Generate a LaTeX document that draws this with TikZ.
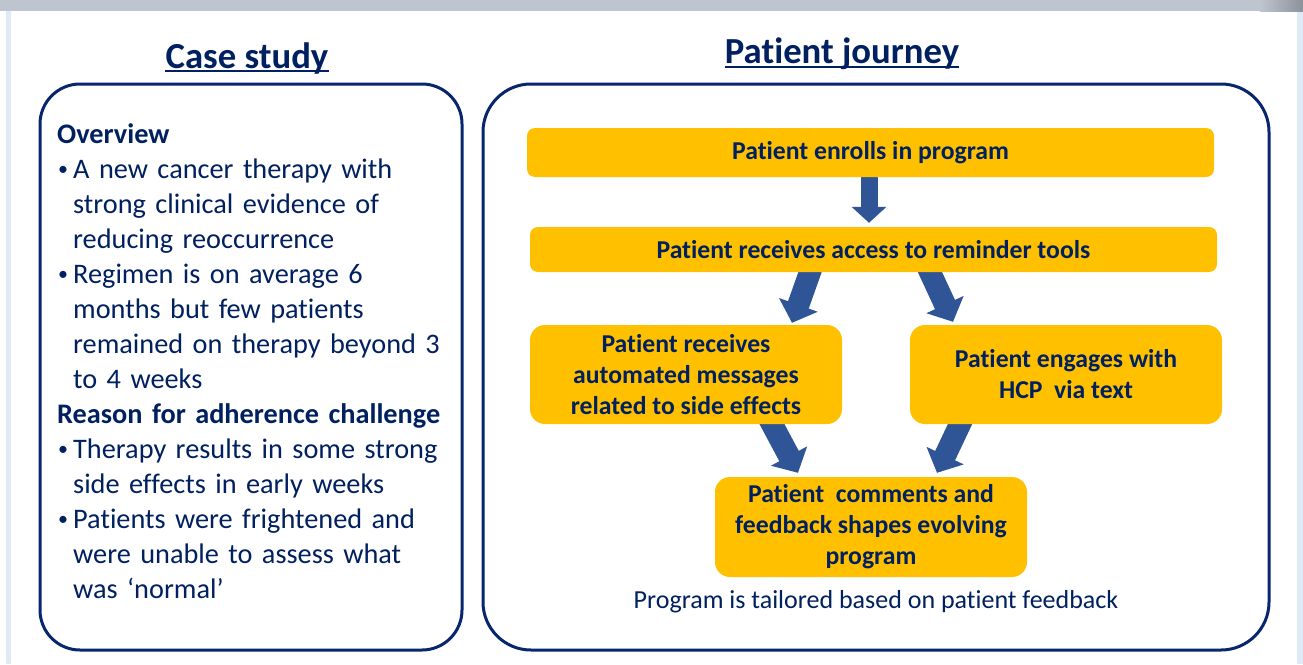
\documentclass[tikz,border=0pt]{standalone}
\usepackage{fontspec}
\setmainfont{Carlito}[RawFeature={-liga;-dlig}]
\usetikzlibrary{arrows.meta,calc}
\definecolor{navy}{RGB}{0,32,96}
\definecolor{boxline}{RGB}{8,38,110}
\definecolor{gold}{RGB}{255,192,0}
\definecolor{arrowblue}{RGB}{47,85,151}
\definecolor{pale}{RGB}{222,235,247}
\definecolor{bargray}{RGB}{190,197,207}
\definecolor{bardark}{RGB}{140,146,156}
\newcommand\csbullet{\makebox[16pt][l]{\hspace*{1pt}{\fontsize{20}{20}\selectfont\raisebox{2.5pt}{•}}}}
\newcommand\csindent{\hspace*{16pt}}
\pgfdeclarelayer{back}
\pgfdeclarelayer{bg}
\pgfsetlayers{back,bg,main}
\begin{document}
\begin{tikzpicture}[x=1pt,y=-1pt,
  panel/.style={draw=boxline, line width=3pt, rounded corners=40pt},
  stepbox/.style={fill=gold, rounded corners=8pt, text=navy, font=\fontsize{25.7}{31}\selectfont\bfseries, align=center, inner sep=0pt},
  bigbox/.style={stepbox, rounded corners=15pt, minimum width=312pt, minimum height=99pt},
  flow/.style={draw=arrowblue, line width=22pt, -{Triangle[length=19pt,width=40pt]}},
  titletext/.style={text=navy, font=\fontsize{36.7}{44}\selectfont\bfseries, inner sep=0pt, anchor=base},
  uline/.style={draw=navy, line width=2pt},
]
\useasboundingbox (0,0) rectangle (1303,664);
% background
\begin{pgfonlayer}{back}
\fill[white] (0,0) rectangle (1303,664);
\fill[pale] (6,11) rectangle (11,664);
\fill[pale] (1297,11) rectangle (1303,664);
\fill[bargray] (0,0) rectangle (1260,11);
\shade[left color=bargray, right color=bardark] (1260,0) rectangle (1303,11);
\end{pgfonlayer}

% titles
\node[titletext] (cs) at (247,68) {Case study};
\draw[uline] ($(cs.base west)+(0,3)$) -- ($(cs.base east)+(0,3)$);
\node[titletext] (pj) at (842,63) {Patient journey};
\draw[uline] ($(pj.base west)+(0,3.5)$) -- ($(pj.base east)+(0,3.5)$);

% panels
\draw[panel] (40,84) rectangle (462,650);
\draw[panel, rounded corners=48pt] (483,84) rectangle (1269,650);

% case study text
\node[anchor=base west, inner sep=0pt, text=navy, align=left, text width=430pt,
      font=\fontsize{28.3}{35}\selectfont] (cstext) at (57,143) {%
\textbf{Overview}\\
\csbullet A new cancer therapy with\\
\csindent strong clinical evidence of\\
\csindent reducing reoccurrence\\
\csbullet Regimen is on average 6\\
\csindent months but few patients\\
\csindent remained on therapy beyond 3\\
\csindent to 4 weeks\\
\textbf{Reason for adherence challenge}\\
\csbullet Therapy results in some strong\\
\csindent side effects in early weeks\\
\csbullet Patients were frightened and\\
\csindent were unable to assess what\\
\csindent was ‘normal’};

% flow boxes
\node[stepbox, minimum width=687pt, minimum height=49pt] (enroll) at (870.5,152.5) {Patient enrolls in program};
\node[stepbox, minimum width=687pt, minimum height=45pt] (remind) at (873.5,249.5) {Patient receives access to reminder tools};
\node[bigbox] (side) at (686,374.5) {Patient receives\\automated messages\\related to side effects};
\node[bigbox] (hcp) at (1066,374.5) {Patient engages with\\HCP~ via text};
\node[bigbox, minimum height=100pt] (feedback) at (871,527) {Patient~ comments and\\feedback shapes evolving\\program};
\node[anchor=base, inner sep=0pt, text=navy, font=\fontsize{26}{30}\selectfont] (caption) at (876,608) {Program is tailored based on patient feedback};

% arrows
\begin{pgfonlayer}{bg}
\draw[flow, line width=17pt, -{Triangle[length=16pt,width=34pt]}] ($(enroll.south)+(-1.5,-4)$) -- ($(remind.north)+(-4.5,-4)$);
\draw[flow] ($(remind.south)+(-61.4,-6)$) -- ($(side.north)+(106,-2)$);
\draw[flow] ($(remind.south)+(53.7,-6)$) -- ($(hcp.north)+(-113,-3)$);
\draw[flow] ($(side.south)+(82.8,-6)$) -- ($(feedback.north)+(-73,-4)$);
\draw[flow] ($(hcp.south)+(-103.2,-6)$) -- ($(feedback.north)+(66,-4)$);
\end{pgfonlayer}
\end{tikzpicture}
\end{document}
